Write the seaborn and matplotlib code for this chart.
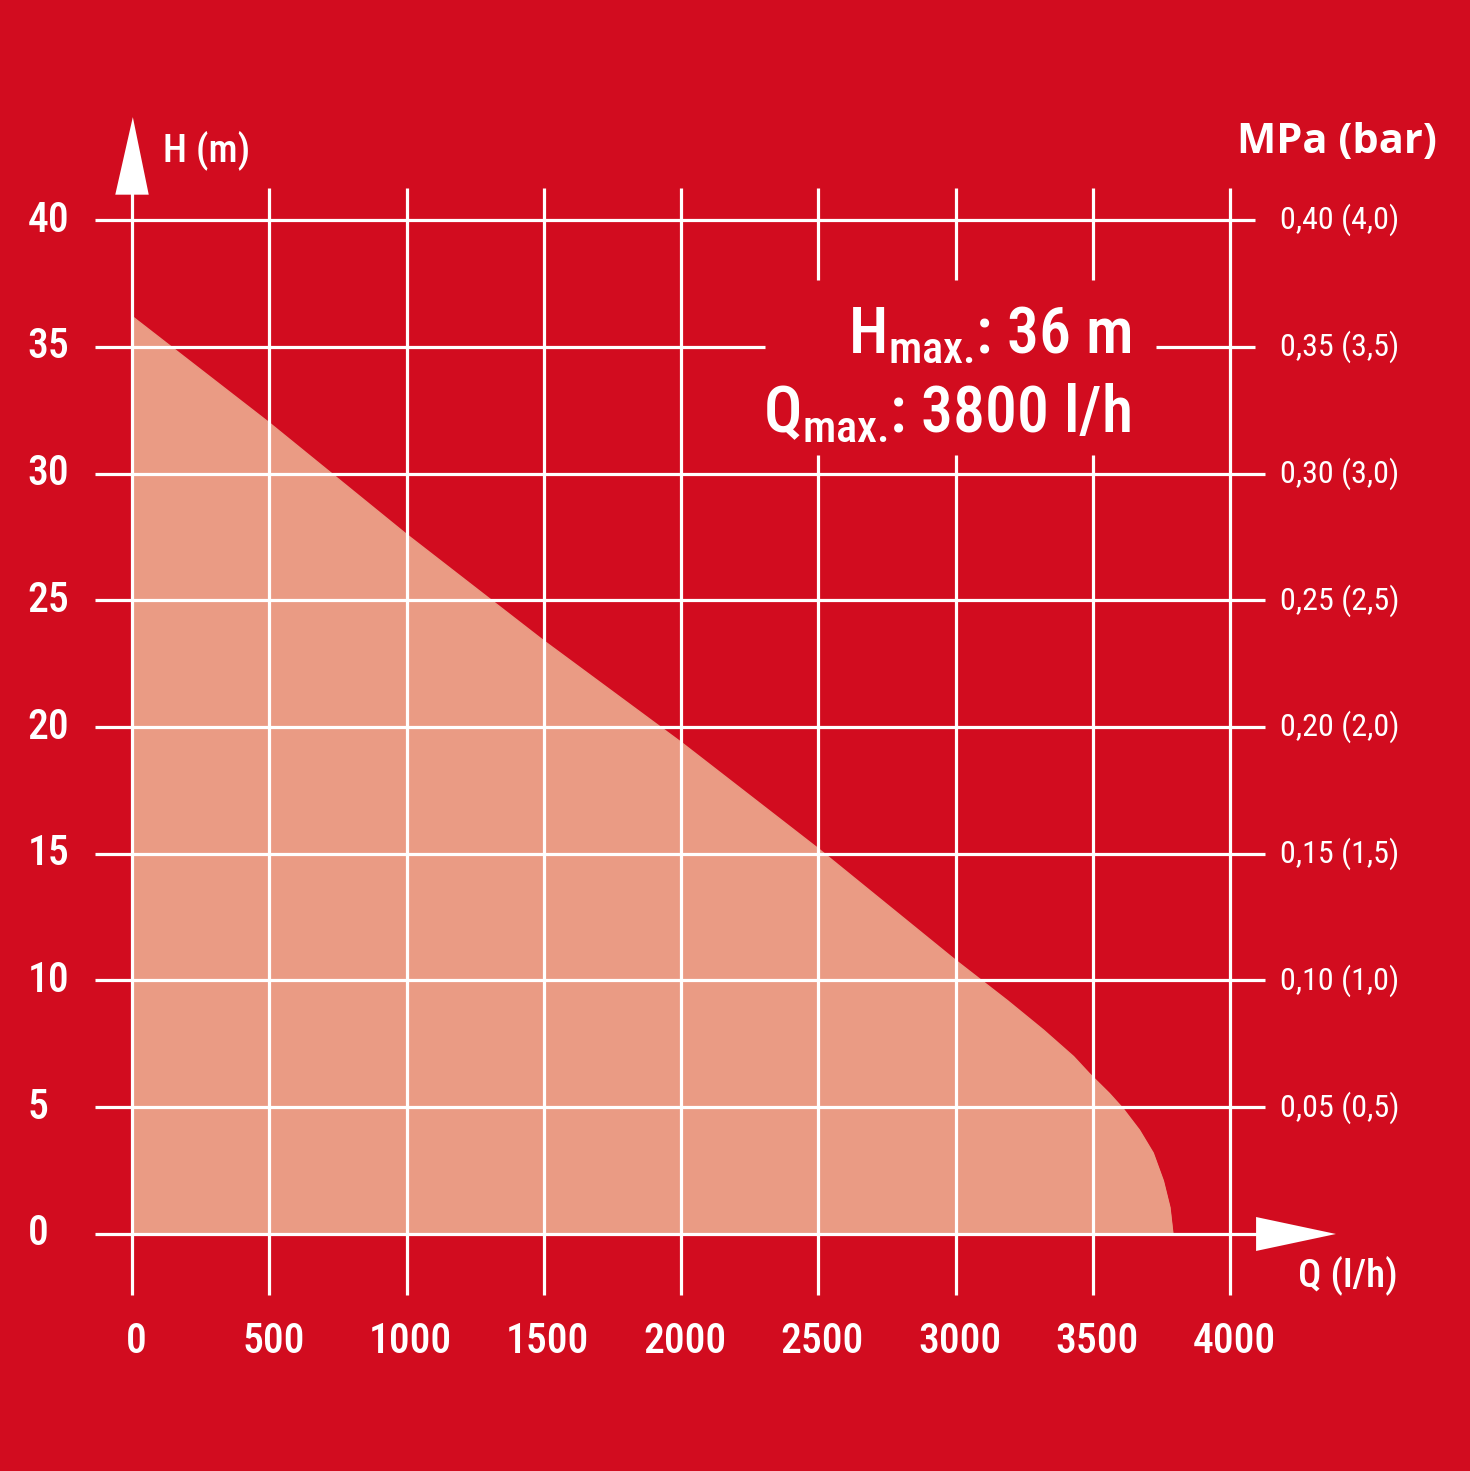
import matplotlib
matplotlib.use("Agg")
import matplotlib.pyplot as plt
import seaborn as sns
import numpy as np
import pandas as pd
from matplotlib.patches import Polygon

# ---- data ----
flow_lh = [0, 500, 1000, 1500, 2000, 2500, 3000, 3190, 3320, 3430, 3490,
           3560, 3610, 3670, 3720, 3757, 3781, 3792]
head_m = [36.2, 32.0, 27.6, 23.4, 19.4, 15.2, 10.8, 9.2, 8.05, 7.0, 6.3,
          5.55, 4.95, 4.1, 3.2, 2.1, 1.05, 0.0]
x_ticks = [0, 500, 1000, 1500, 2000, 2500, 3000, 3500, 4000]
y_ticks = [0, 5, 10, 15, 20, 25, 30, 35, 40]
y_labels = ["0", "5", "10", "15", "20", "25", "30", "35", "40"]
right_labels = ["", "0,05 (0,5)", "0,10 (1,0)", "0,15 (1,5)", "0,20 (2,0)",
                "0,25 (2,5)", "0,30 (3,0)", "0,35 (3,5)", "0,40 (4,0)"]
x_title = "Q (l/h)"
y_title = "H (m)"
right_title = "MPa (bar)"
h_max_label = r"$\mathregular{H_{max.}}\!$: 36 m"
q_max_label = r"$\mathregular{Q_{max.}}\!$: 3800 l/h"

df = pd.DataFrame({"Q": flow_lh, "H": head_m})

BG = "#D20C1F"
FILL = "#EA9B84"
WHITE = "#FFFFFF"
COND = ["Roboto Condensed", "DejaVu Sans"]

sns.set_theme(style="white")
plt.rcParams["font.family"] = COND
plt.rcParams["mathtext.fontset"] = "custom"
plt.rcParams["mathtext.rm"] = "Roboto Condensed:medium"
plt.rcParams["mathtext.default"] = "regular"

fig = plt.figure(figsize=(14.7, 14.71), dpi=100, facecolor=BG)
ax = fig.add_axes([0, 0, 1, 1])
ax.set_facecolor(BG)
ax.set_xlim(-480.9, 4874.3)
ax.set_ylim(-9.35, 48.68)
ax.axis("off")

# area under the curve
ax.fill_between(df["Q"], df["H"], 0, color=FILL, lw=0, zorder=1)
sns.lineplot(data=df, x="Q", y="H", ax=ax, color=FILL, lw=1.0, zorder=1, legend=False)

LW = 2.3
# horizontal grid lines
for yv in y_ticks:
    if yv == 0:
        ax.hlines(yv, -135, 4100, color=WHITE, lw=LW, zorder=3)
    elif yv == 35:
        ax.hlines(yv, -135, 2306, color=WHITE, lw=LW, zorder=3)
        ax.hlines(yv, 3730, 4091, color=WHITE, lw=LW, zorder=3)
    elif yv == 40:
        ax.hlines(yv, -135, 4091, color=WHITE, lw=LW, zorder=3)
    else:
        ax.hlines(yv, -135, 4127, color=WHITE, lw=LW, zorder=3)

# vertical grid lines
for xv in x_ticks:
    if xv == 0:
        ax.vlines(xv, -2.41, 41.1, color=WHITE, lw=LW, zorder=3)
    elif xv in (2500, 3000, 3500):
        ax.vlines(xv, -2.41, 30.73, color=WHITE, lw=LW, zorder=3)
        ax.vlines(xv, 37.63, 41.26, color=WHITE, lw=LW, zorder=3)
    else:
        ax.vlines(xv, -2.41, 41.26, color=WHITE, lw=LW, zorder=3)

# arrows
ax.add_patch(Polygon([[-61, 41.0], [61, 41.0], [3, 44.06]], closed=True,
                     color=WHITE, lw=0, zorder=4))
ax.add_patch(Polygon([[4095, 0.67], [4095, -0.67], [4386, 0.0]], closed=True,
                     color=WHITE, lw=0, zorder=4))

# tick labels
for yv, lab in zip(y_ticks, y_labels):
    ax.text(-380, yv, lab, ha="left", va="center", fontsize=30,
            fontweight="medium", color=WHITE, zorder=5)
for yv, lab in zip(y_ticks, right_labels):
    if lab:
        ax.text(4182, yv, lab, ha="left", va="center", fontsize=23,
                fontweight="normal", color=WHITE, zorder=5)
for xv in x_ticks:
    ax.text(xv + 15, -4.25, str(xv), ha="center", va="center", fontsize=30,
            fontweight="medium", color=WHITE, zorder=5)

# axis titles
ax.text(113, 42.76, y_title, ha="left", va="center", fontsize=28,
        fontweight="medium", color=WHITE, zorder=5)
ax.text(4612, -1.62, x_title, ha="right", va="center", fontsize=28,
        fontweight="medium", color=WHITE, zorder=5)
ax.text(4754, 43.04, right_title, ha="right", va="center", fontsize=30,
        fontweight="bold", color=WHITE, family=["Open Sans", "DejaVu Sans"], zorder=5)

# annotation
ax.text(3639, 34.75, h_max_label, ha="right", va="baseline", fontsize=46,
        fontweight="medium", color=WHITE, zorder=5)
ax.text(3639, 31.64, q_max_label, ha="right", va="baseline", fontsize=46,
        fontweight="medium", color=WHITE, zorder=5)

fig.savefig("out.png", dpi=100, facecolor=BG)
